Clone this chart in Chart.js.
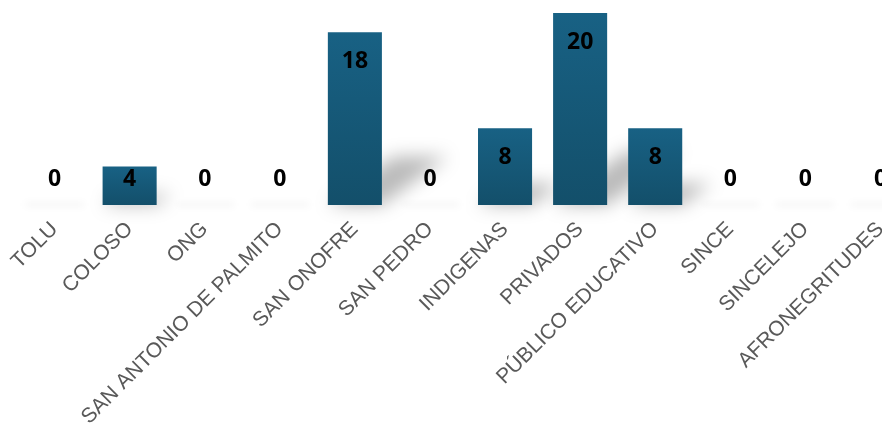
<!DOCTYPE html>
<html>
<head>
<meta charset="utf-8">
<script src="https://cdn.jsdelivr.net/npm/chart.js@4"></script>
<style>
  html, body { margin: 0; padding: 0; background: #ffffff; overflow: hidden; }
  #wrap { position: relative; width: 918px; height: 425px; }
</style>
</head>
<body>
<div id="wrap"><canvas id="c"></canvas></div>
<script>
const categories = ["TOLU", "COLOSO", "ONG", "SAN ANTONIO DE PALMITO", "SAN ONOFRE", "SAN PEDRO",
  "INDIGENAS", "PRIVADOS", "PÚBLICO EDUCATIVO", "SINCE", "SINCELEJO", "AFRONEGRITUDES"];
const values = [0, 4, 0, 0, 18, 0, 8, 20, 8, 0, 0, 0];
const yMin = 0;
const yMax = 20;

function barGradient(ctx) {
  const chart = ctx.chart;
  const ys = chart.scales.y;
  if (!chart.chartArea || !ys) return '#16587a';
  const top = ys.getPixelForValue(ctx.raw);
  const base = ys.getPixelForValue(0);
  if (!(base > top)) return '#16587a';
  const g = chart.ctx.createLinearGradient(0, top, 0, base);
  g.addColorStop(0, '#186184');
  g.addColorStop(1, '#134f6a');
  return g;
}

const shadowPlugin = {
  id: 'barShadow',
  beforeDatasetsDraw(chart) {
    const ctx = chart.ctx;
    const meta = chart.getDatasetMeta(0);
    meta.data.forEach((bar) => {
      const p = bar.getProps(['x', 'y', 'base', 'width'], true);
      const h = p.base - p.y;
      const l = p.x - p.width / 2, r = p.x + p.width / 2;
      ctx.save();
      ctx.filter = 'blur(3px)';
      ctx.fillStyle = 'rgba(0,0,0,0.035)';
      ctx.fillRect(l - 2, p.base - 3, p.width + 4, 5);
      if (h > 0) {
        ctx.filter = 'blur(9px)';
        ctx.fillStyle = 'rgba(0,0,0,0.27)';
        const k = 0.38, s = 0.28;
        ctx.beginPath();
        ctx.moveTo(l, p.base);
        ctx.lineTo(r, p.base);
        ctx.lineTo(r + k * h, p.base - s * h);
        ctx.lineTo(l + k * h, p.base - s * h);
        ctx.closePath();
        ctx.fill();
      }
      ctx.restore();
    });
  }
};

const labelPlugin = {
  id: 'valueLabels',
  afterDatasetsDraw(chart) {
    const ctx = chart.ctx;
    const meta = chart.getDatasetMeta(0);
    ctx.save();
    ctx.font = 'bold 23px "Open Sans", sans-serif';
    ctx.fillStyle = '#000000';
    ctx.textAlign = 'center';
    ctx.textBaseline = 'middle';
    meta.data.forEach((bar, i) => {
      const p = bar.getProps(['x', 'y', 'base'], true);
      const y = Math.min(p.y + 29, p.base - 26);
      ctx.fillText(String(values[i]), p.x, y);
    });
    ctx.restore();
  }
};

new Chart(document.getElementById('c'), {
  type: 'bar',
  data: {
    labels: categories,
    datasets: [{
      data: values,
      backgroundColor: barGradient,
      borderWidth: 0,
      barPercentage: 0.72,
      categoryPercentage: 1.0
    }]
  },
  options: {
    responsive: true,
    maintainAspectRatio: false,
    animation: false,
    events: [],
    layout: { autoPadding: false, padding: { left: 17, right: 0, top: 13, bottom: 0 } },
    plugins: { legend: { display: false }, tooltip: { enabled: false } },
    scales: {
      x: {
        grid: { display: false, drawTicks: false },
        border: { display: false },
        ticks: {
          color: '#595959',
          font: { family: '"Liberation Sans", Arial, sans-serif', size: 21 },
          maxRotation: 45,
          minRotation: 45,
          autoSkip: false,
          padding: 12
        },
        afterFit(scale) { scale.height = 220; }
      },
      y: {
        display: false,
        min: yMin,
        max: yMax
      }
    }
  },
  plugins: [shadowPlugin, labelPlugin]
});
</script>
</body>
</html>
